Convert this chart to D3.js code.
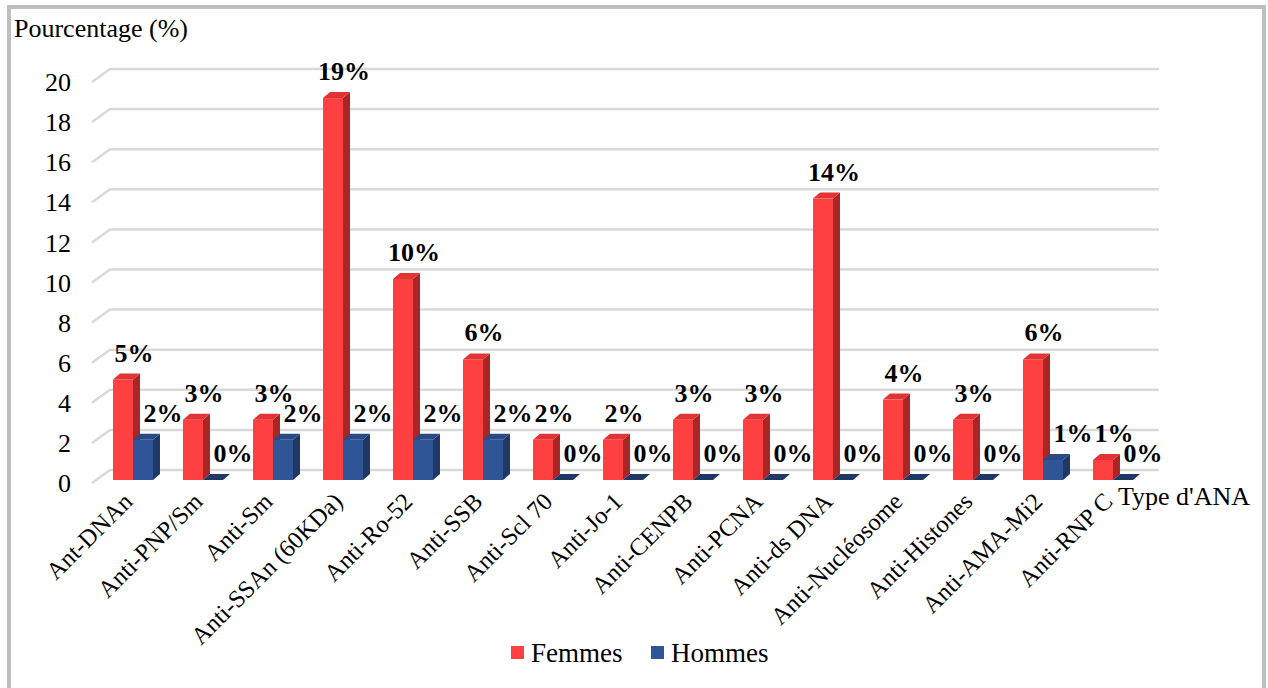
<!DOCTYPE html>
<html>
<head>
<meta charset="utf-8">
<script src="https://cdn.jsdelivr.net/npm/d3@7/dist/d3.min.js"></script>
<style>
  html, body { margin: 0; padding: 0; background: #ffffff; }
  svg { display: block; }
</style>
</head>
<body>
<svg id="chart" width="1268" height="688"></svg>
<script>
// ANA types and percentages by sex
const categories = [
  "Ant-DNAn", "Anti-PNP/Sm", "Anti-Sm", "Anti-SSAn (60KDa)", "Anti-Ro-52",
  "Anti-SSB", "Anti-Scl 70", "Anti-Jo-1", "Anti-CENPB", "Anti-PCNA",
  "Anti-ds DNA", "Anti-Nucléosome", "Anti-Histones", "Anti-AMA-Mi2", "Anti-RNP C"
];
const femmes = [5, 3, 3, 19, 10, 6, 2, 2, 3, 3, 14, 4, 3, 6, 1];
const hommes = [2, 0, 2, 2, 2, 2, 0, 0, 0, 0, 0, 0, 0, 1, 0];
const yTicks = [0, 2, 4, 6, 8, 10, 12, 14, 16, 18, 20];
const seriesNames = ["Femmes", "Hommes"];

const FONT = "'Liberation Serif', 'Times New Roman', Times, serif";

const svg = d3.select("#chart")
  .attr("font-family", FONT)
  .style("font-family", FONT);

// outer frame
svg.append("rect")
  .attr("x", 9).attr("y", 7).attr("width", 1255).attr("height", 700)
  .attr("fill", "none").attr("stroke", "#bfbfbf").attr("stroke-width", 4);

// scales: front plane of the columns, and back wall for the gridlines
const yFront = d3.scaleLinear().domain([0, 20]).range([480, 78]);
const yBack = d3.scaleLinear().domain([0, 20]).range([470, 69]);
const x = d3.scaleBand().domain(categories).range([98, 1148]);

const wallLeft = 110, wallRight = 1159;
const depthDx = 18, depthDy = 13;

// gridlines with the receding left edge
const grid = svg.append("g");
yTicks.forEach(t => {
  const yb = yBack(t);
  grid.append("path")
    .attr("d", `M${wallLeft - depthDx},${yb + depthDy} L${wallLeft},${yb} L${wallRight},${yb}`)
    .attr("fill", "none").attr("stroke", "#d9d9d9").attr("stroke-width", 2.5);
});

function txt(sel) {
  return sel.attr("font-family", FONT).style("font-family", FONT).attr("fill", "#000");
}

// y tick labels
txt(svg.append("g").selectAll("text").data(yTicks).join("text"))
  .attr("x", 71)
  .attr("y", d => yBack(d) + depthDy)
  .attr("dy", "0.35em")
  .attr("text-anchor", "end")
  .attr("font-size", 26)
  .text(d => d);

// axis titles
txt(svg.append("text")).attr("x", 14).attr("y", 37).attr("font-size", 26).text("Pourcentage (%)");
txt(svg.append("text")).attr("x", 1118).attr("y", 505).attr("font-size", 26).text("Type d'ANA");

// 3D columns
const barW = 20, bdx = 7, bdy = 6;
const palette = [
  { front: "#ff4040", top: "#e23434", side: "#a82626" },
  { front: "#2f5597", top: "#284a86", side: "#1f3864" }
];

function drawColumn(g, x0, v, c) {
  const y0 = yFront(0), y1 = yFront(v);
  if (v > 0) {
    g.append("path")
      .attr("d", `M${x0 + barW},${y1} L${x0 + barW + bdx},${y1 - bdy} L${x0 + barW + bdx},${y0 - bdy} L${x0 + barW},${y0} Z`)
      .attr("fill", c.side);
    g.append("rect")
      .attr("x", x0).attr("y", y1).attr("width", barW).attr("height", y0 - y1)
      .attr("fill", c.front);
  }
  g.append("path")
    .attr("d", `M${x0},${y1} L${x0 + barW},${y1} L${x0 + barW + bdx},${y1 - bdy} L${x0 + bdx},${y1 - bdy} Z`)
    .attr("fill", v > 0 ? c.top : c.side);
}

const bars = svg.append("g");
categories.forEach((cat, i) => {
  const cx = x(cat) + x.bandwidth() / 2;
  drawColumn(bars, cx - barW, femmes[i], palette[0]);
  drawColumn(bars, cx, hommes[i], palette[1]);
});

// value labels
const labels = svg.append("g");
categories.forEach((cat, i) => {
  const cx = x(cat) + x.bandwidth() / 2;
  txt(labels.append("text"))
    .attr("font-size", 26).attr("font-weight", "bold").attr("text-anchor", "middle")
    .attr("x", cx - barW / 2 + 11).attr("y", yFront(femmes[i]) - 18)
    .text(femmes[i] + "%");
  txt(labels.append("text"))
    .attr("font-size", 26).attr("font-weight", "bold").attr("text-anchor", "middle")
    .attr("x", cx + barW / 2 + 20).attr("y", yFront(hommes[i]) - 18)
    .text(hommes[i] + "%");
});

// category labels, rotated
txt(svg.append("g").selectAll("text").data(categories).join("text"))
  .attr("font-size", 24.5)
  .attr("text-anchor", "end")
  .attr("transform", d => `translate(${x(d) + x.bandwidth() / 2 + 1},${503}) rotate(-45)`)
  .text(d => d);

// legend
const legend = svg.append("g");
const legendX = [511, 651];
seriesNames.forEach((name, i) => {
  legend.append("rect")
    .attr("x", legendX[i]).attr("y", 646).attr("width", 13).attr("height", 13)
    .attr("fill", palette[i].front);
  txt(legend.append("text"))
    .attr("x", legendX[i] + 20).attr("y", 662).attr("font-size", 27)
    .text(name);
});
</script>
</body>
</html>
